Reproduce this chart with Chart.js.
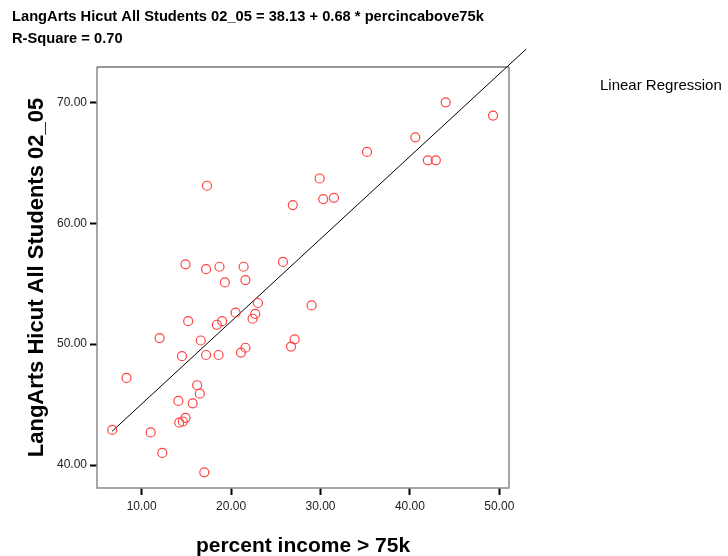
<!DOCTYPE html>
<html>
<head>
<meta charset="utf-8">
<script src="https://cdn.jsdelivr.net/npm/chart.js@4.4.1/dist/chart.umd.min.js"></script>
<style>
  html, body { margin: 0; padding: 0; background: #fff; }
  #wrap { width: 728px; height: 556px; position: relative; }
</style>
</head>
<body>
<div id="wrap"><canvas id="scatterChart"></canvas></div>
<script>
// percent income > 75k
const incomePct = [
    6.7, 8.3, 11.0, 12.3, 17.0, 12.0, 14.9, 17.2, 18.7, 21.4,
    21.6, 19.3, 25.8, 23.0, 20.5, 22.7, 22.4, 15.2, 18.4, 19.0,
    16.6, 14.5, 17.2, 18.6, 21.1, 21.6, 26.7, 27.1, 29.0, 16.2,
    16.5, 14.1, 15.7, 14.9, 14.6, 14.2, 17.3, 26.9, 44.0, 49.3,
    40.6, 35.2, 42.0, 42.9, 29.9, 30.3, 31.5
];
// LangArts Hicut All Students 02_05
const langArts = [
    42.9, 47.2, 42.7, 41.0, 39.4, 50.5, 56.6, 56.2, 56.4, 56.4,
    55.3, 55.1, 56.8, 53.4, 52.6, 52.5, 52.1, 51.9, 51.6, 51.9,
    50.3, 49.0, 49.1, 49.1, 49.3, 49.7, 49.8, 50.4, 53.2, 46.6,
    45.9, 45.3, 45.1, 43.9, 43.6, 43.5, 63.1, 61.5, 70.0, 68.9,
    67.1, 65.9, 65.2, 65.2, 63.7, 62.0, 62.1
];
// fitted line endpoints (as drawn)
const fitX = [6.7, 53.0];
const fitY = [42.8, 74.4];

const xTicks = [10, 20, 30, 40, 50];
const yTicks = [40, 50, 60, 70];

const titleLines = [
    'LangArts Hicut All Students 02_05 = 38.13 + 0.68 * percincabove75k',
    'R-Square = 0.70'
];
const xTitle = 'percent income > 75k';
const yTitle = 'LangArts Hicut All Students 02_05';
const legendText = 'Linear Regression';

// draws frame + all the text that is not tick labels
const decorPlugin = {
    id: 'decor',
    afterDraw(chart) {
        const ctx = chart.ctx;
        const a = chart.chartArea;
        ctx.save();
        // frame
        ctx.lineWidth = 1.5;
        ctx.strokeStyle = '#8a8a8a';
        ctx.beginPath();
        ctx.moveTo(a.left, a.top);
        ctx.lineTo(a.left, a.bottom);
        ctx.lineTo(a.right, a.bottom);
        ctx.lineTo(a.right, a.top);
        ctx.stroke();
        ctx.strokeStyle = '#333';
        ctx.lineWidth = 1.2;
        ctx.beginPath();
        ctx.moveTo(a.left, a.top);
        ctx.lineTo(a.right, a.top);
        ctx.stroke();

        ctx.fillStyle = '#000';
        ctx.textBaseline = 'alphabetic';
        ctx.textAlign = 'left';
        ctx.font = 'bold 14.7px "Liberation Sans", Arial, sans-serif';
        ctx.fillText(titleLines[0], 12, 21);
        ctx.fillText(titleLines[1], 12, 43);

        ctx.font = '15px "Liberation Sans", Arial, sans-serif';
        ctx.fillText(legendText, 600, 90);

        ctx.font = 'bold 21px "Liberation Sans", Arial, sans-serif';
        ctx.textAlign = 'center';
        ctx.fillText(xTitle, (a.left + a.right) / 2, 552);

        ctx.font = 'bold 22px "Liberation Sans", Arial, sans-serif';
        ctx.translate(43, (a.top + a.bottom) / 2);
        ctx.rotate(-Math.PI / 2);
        ctx.fillText(yTitle, 0, 0);
        ctx.restore();
    }
};

new Chart(document.getElementById('scatterChart'), {
    type: 'scatter',
    data: {
        datasets: [
            {
                label: 'LangArts',
                data: incomePct.map((x, i) => ({ x: x, y: langArts[i] })),
                pointStyle: 'circle',
                pointRadius: 4.5,
                pointBorderWidth: 1.2,
                pointBorderColor: '#ff4444',
                pointBackgroundColor: 'rgba(0,0,0,0)',
                showLine: false
            },
            {
                label: 'Linear Regression',
                data: fitX.map((x, i) => ({ x: x, y: fitY[i] })),
                showLine: true,
                borderColor: '#000',
                borderWidth: 1,
                pointRadius: 0,
                clip: false
            }
        ]
    },
    options: {
        responsive: true,
        maintainAspectRatio: false,
        animation: false,
        layout: { padding: { left: 0, top: 67, right: 219, bottom: 0 } },
        plugins: {
            legend: { display: false },
            title: { display: false },
            tooltip: { enabled: false }
        },
        scales: {
            x: {
                type: 'linear',
                min: 5.0,
                max: 51.08,
                afterBuildTicks: axis => { axis.ticks = xTicks.map(v => ({ value: v })); },
                afterFit: s => { s.height = 68; },
                grid: { drawOnChartArea: false, drawTicks: true, tickLength: 7, tickWidth: 2, tickColor: '#000' },
                border: { display: false },
                ticks: {
                    color: '#222',
                    padding: 4,
                    maxRotation: 0,
                    font: { family: '"Liberation Sans", Arial, sans-serif', size: 12 },
                    callback: v => v.toFixed(2)
                }
            },
            y: {
                type: 'linear',
                min: 38.1,
                max: 72.92,
                afterBuildTicks: axis => { axis.ticks = yTicks.map(v => ({ value: v })); },
                afterFit: s => { s.width = 97; },
                grid: { drawOnChartArea: false, drawTicks: true, tickLength: 7, tickWidth: 2, tickColor: '#000' },
                border: { display: false },
                ticks: {
                    color: '#222',
                    padding: 3,
                    font: { family: '"Liberation Sans", Arial, sans-serif', size: 12 },
                    callback: v => v.toFixed(2)
                }
            }
        }
    },
    plugins: [decorPlugin]
});
</script>
</body>
</html>
